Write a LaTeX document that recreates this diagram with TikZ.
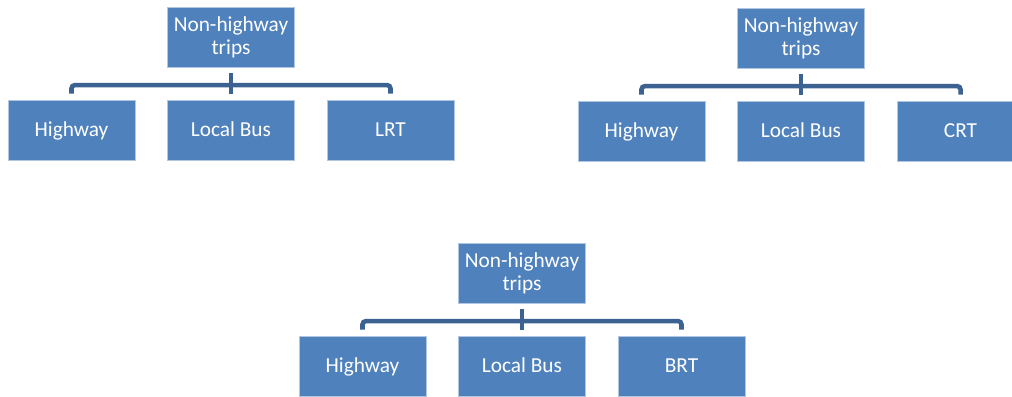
\documentclass[tikz,border=0pt]{standalone}
\usepackage{fontspec}
\setmainfont{Carlito}
\usepackage{tikz}
\usetikzlibrary{calc}
\definecolor{boxblue}{RGB}{79,129,189}
\definecolor{linkblue}{RGB}{60,98,145}
\tikzset{
  unit/.style={rectangle, fill=boxblue, draw=white!55!boxblue, line width=0.6pt,
               minimum width=95.25pt, minimum height=45pt, inner sep=0pt,
               text=white, align=center, font=\fontsize{16}{17.5}\selectfont},
  leaf/.style={unit, text height=12pt, text depth=3pt},
  branch/.style={linkblue, line width=3.4pt, rounded corners=2.5pt},
}

\begin{document}
\begin{tikzpicture}[x=0.75pt,y=-0.75pt]
  \useasboundingbox (0,0) rectangle (1012,396);

  % three small trees: root, then Highway / Local Bus / rail or bus mode
  \foreach \t/\x/\y/\mode in {a/231/37/LRT, b/801/38/CRT, c/522/273/BRT}{
    \node[unit] (root\t) at (\x,\y) {Non-highway\\trips};
    \node[leaf] (hw\t) at (\x-159.5,\y+93) {Highway};
    \node[leaf] (lb\t) at (\x,\y+93) {Local Bus};
    \node[leaf] (md\t) at (\x+159.5,\y+93) {\mode};

    % bracket joining root and children
    \coordinate (bar\t) at ($(root\t.south)!0.55!(lb\t.north)$);
    \draw[branch] ([yshift=4.5pt]hw\t.north) |- (bar\t) -| ([yshift=4.5pt]md\t.north);
    \draw[branch, rounded corners=0pt] ([yshift=-4.5pt]root\t.south) -- ([yshift=4.5pt]lb\t.north);
  }
\end{tikzpicture}
\end{document}
